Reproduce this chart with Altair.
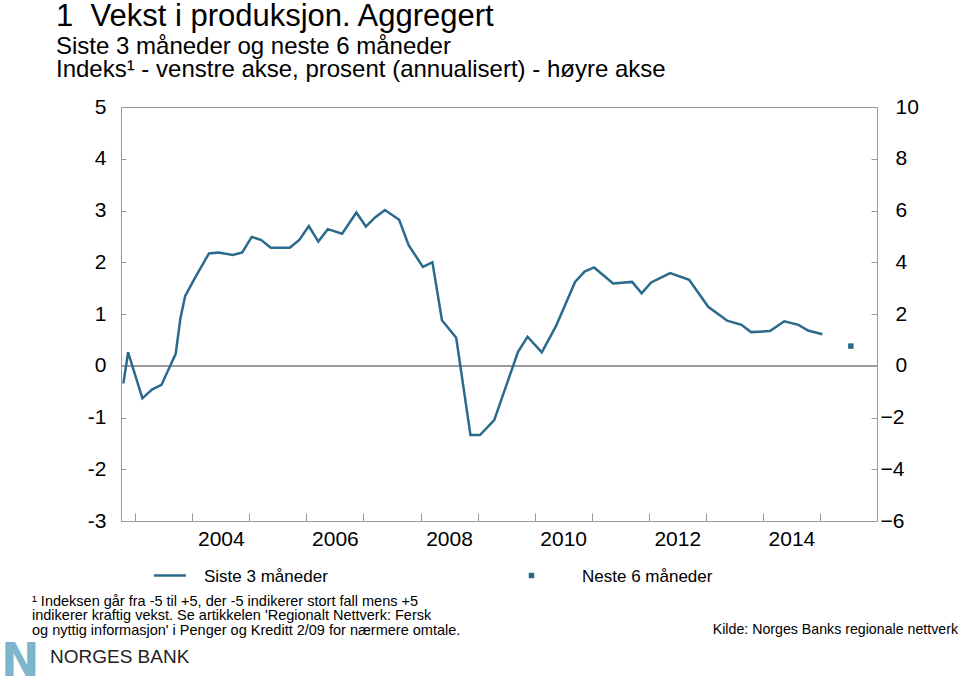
import altair as alt
import pandas as pd

# ---- data ----
survey_months = [
    "2002-10", "2002-11", "2003-02", "2003-04", "2003-06", "2003-09", "2003-10", "2003-11",
    "2004-01", "2004-04", "2004-06", "2004-09", "2004-11",
    "2005-01", "2005-03", "2005-05", "2005-09", "2005-11",
    "2006-01", "2006-03", "2006-05", "2006-08", "2006-11",
    "2007-01", "2007-03", "2007-05", "2007-08", "2007-10",
    "2008-01", "2008-03", "2008-05", "2008-08", "2008-11",
    "2009-01", "2009-04", "2009-09", "2009-11",
    "2010-02", "2010-05", "2010-09", "2010-11",
    "2011-01", "2011-05", "2011-09", "2011-11",
    "2012-01", "2012-05", "2012-09",
    "2013-01", "2013-05", "2013-08", "2013-10",
    "2014-02", "2014-05", "2014-08", "2014-10",
    "2015-01",
]
index_last3 = [
    -0.34, 0.26, -0.63, -0.46, -0.37, 0.23, 0.92, 1.35,
    1.69, 2.17, 2.19, 2.14, 2.19,
    2.49, 2.43, 2.28, 2.28, 2.43,
    2.70, 2.40, 2.64, 2.55, 2.96,
    2.69, 2.87, 3.01, 2.82, 2.33,
    1.91, 2.00, 0.88, 0.54, -1.34,
    -1.34, -1.05, 0.27, 0.56,
    0.26, 0.77, 1.62, 1.82,
    1.90, 1.59, 1.62, 1.40,
    1.61, 1.79, 1.66,
    1.14, 0.87, 0.79, 0.65,
    0.67, 0.86, 0.79, 0.68,
    0.61,
]
next6_months = ["2015-07"]
next6_pct = [0.76]

x_ticks = list(range(2003, 2016))
left_ticks = list(range(-3, 6))
right_ticks = list(range(-6, 11, 2))


def to_decimal_year(ym):
    y, m = ym.split("-")
    return int(y) + (int(m) - 0.5) / 12


line_df = pd.DataFrame({"t": [to_decimal_year(s) for s in survey_months], "v": index_last3})
sq_df = pd.DataFrame({"t": [to_decimal_year(s) for s in next6_months], "v": next6_pct})

FONT = "Liberation Sans"
BLUE = "#2a6a8c"
GRAY = "#9a9a9a"

x_enc = alt.X(
    "t:Q",
    scale=alt.Scale(domain=[2002.75, 2016], nice=False, zero=False),
    axis=alt.Axis(
        values=x_ticks,
        labelExpr="datum.value % 2 == 0 ? '' + datum.value : ''",
        labelOffset=28.5, offset=-8, tickSize=8, domain=False, grid=False, title=None,
        labelPadding=7, labelFontSize=21, labelFont=FONT, labelColor="#000",
        tickColor=GRAY, labelOverlap=False, labelFlush=False, labelBound=False,
    ),
)

y_left = alt.Y(
    "v:Q",
    scale=alt.Scale(domain=[-3, 5], nice=False, zero=False),
    axis=alt.Axis(
        values=left_ticks, labelExpr="'' + datum.value",
        offset=-5, tickSize=5, domain=False, grid=False, title=None,
        labelPadding=15, labelFontSize=21, labelFont=FONT, labelColor="#000",
        tickColor=GRAY, labelOverlap=False,
    ),
)

y_right = alt.Y(
    "v:Q",
    scale=alt.Scale(domain=[-6, 10], nice=False, zero=False),
    axis=alt.Axis(
        orient="right", values=right_ticks, format="d",
        offset=-6, tickSize=6, domain=False, grid=False, title=None,
        labelPadding={"condition": {"test": "datum.value < 0", "value": 3}, "value": 18},
        labelAlign="left", labelFontSize=21, labelFont=FONT,
        labelColor="#000", tickColor=GRAY, labelOverlap=False,
    ),
)

zero = alt.Chart(line_df).mark_rule(color=GRAY, strokeWidth=1).encode(y=alt.datum(0))
line = alt.Chart(line_df).mark_line(color=BLUE, strokeWidth=2.5).encode(x=x_enc, y=y_left)
square = alt.Chart(sq_df).mark_square(color=BLUE, size=30, opacity=1).encode(x=x_enc, y=y_right)


def label(text, x, y, size, align="left", weight="normal", color="#000", font=FONT):
    return alt.Chart(alt.Data(values=[{}])).mark_text(
        text=text, align=align, baseline="alphabetic", fontSize=size,
        font=font, fontWeight=weight, color=color,
    ).encode(x=alt.value(x), y=alt.value(y))


NB = "\u00a0"
texts = [
    label("1" + NB + NB + "Vekst i produksjon. Aggregert", -65, -81, 31),
    label("Siste 3 måneder og neste 6 måneder", -65, -53.5, 24),
    label("Indeks¹ - venstre akse, prosent (annualisert) - høyre akse", -65, -30.5, 24),
    label("Siste 3 måneder", 83, 475, 17),
    label("Neste 6 måneder", 461, 475, 17),
    label("¹ Indeksen går fra -5 til +5, der -5 indikerer stort fall mens +5", -89, 498.5, 14.5),
    label("indikerer kraftig vekst. Se artikkelen 'Regionalt Nettverk: Fersk", -89, 513, 14.5),
    label("og nyttig informasjon' i Penger og Kreditt 2/09 for nærmere omtale.", -89, 527.5, 14.5),
    label("Kilde: Norges Banks regionale nettverk", 837, 527, 14.2, align="right"),
    label("NORGES BANK", -71, 556, 19, color="#222"),
    label("N", -120, 568.5, 46, weight="bold", color="#7db5cc", font="DejaVu Sans"),
]

leg_line = alt.Chart(alt.Data(values=[{}])).mark_rule(color=BLUE, strokeWidth=2.5).encode(
    x=alt.value(33), x2=alt.value(65), y=alt.value(468.5)
)
leg_sq = alt.Chart(alt.Data(values=[{}])).mark_square(color=BLUE, size=30, opacity=1).encode(
    x=alt.value(410.5), y=alt.value(468.5)
)

left = alt.layer(zero, line, leg_line, leg_sq, *texts)

chart = (
    alt.layer(left, square)
    .resolve_scale(y="independent")
    .properties(
        width=756, height=414,
        padding={"left": 121, "top": 107, "right": 83, "bottom": 155},
        autosize=alt.AutoSizeParams(type="none"),
        background="white",
    )
    .configure_view(stroke=GRAY, strokeWidth=1)
)

chart.save("out.html", embed_options={"renderer": "svg", "actions": False})
